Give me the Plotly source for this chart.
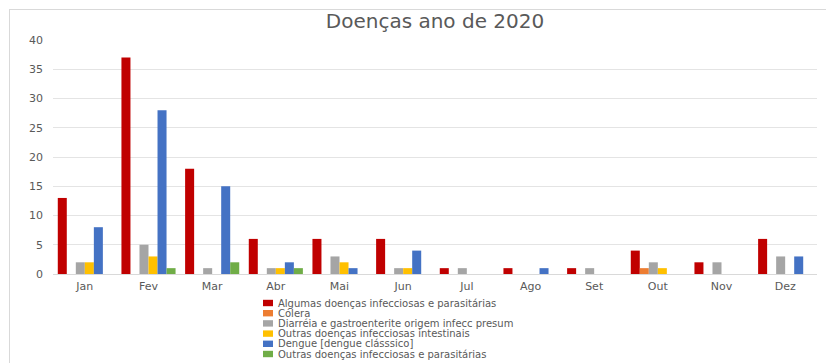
import plotly.graph_objects as go

# Monthly case counts, 2020
months = ["Jan", "Fev", "Mar", "Abr", "Mai", "Jun", "Jul", "Ago", "Set", "Out", "Nov", "Dez"]

series_names = [
    "Algumas doenças infecciosas e parasitárias",
    "Cólera",
    "Diarréia e gastroenterite origem infecc presum",
    "Outras doenças infecciosas intestinais",
    "Dengue [dengue clásssico]",
    "Outras doenças infecciosas e parasitárias",
]

algumas_doencas = [13, 37, 18, 6, 6, 6, 1, 1, 1, 4, 2, 6]
colera = [0, 0, 0, 0, 0, 0, 0, 0, 0, 1, 0, 0]
diarreia = [2, 5, 1, 1, 3, 1, 1, 0, 1, 2, 2, 3]
outras_intestinais = [2, 3, 0, 1, 2, 1, 0, 0, 0, 1, 0, 0]
dengue = [8, 28, 15, 2, 1, 4, 0, 1, 0, 0, 0, 3]
outras_parasitarias = [0, 1, 2, 1, 0, 0, 0, 0, 0, 0, 0, 0]

series_values = [algumas_doencas, colera, diarreia, outras_intestinais, dengue, outras_parasitarias]
colors = ["#C00000", "#ED7D31", "#A5A5A5", "#FFC000", "#4472C4", "#70AD47"]

y_ticks = [0, 5, 10, 15, 20, 25, 30, 35, 40]

W, H = 826, 363
ML, MR, MT, MB = 53, 9, 40, 89
PW, PH = W - ML - MR, H - MT - MB

FONT = "DejaVu Sans"
TEXT_GREY = "#595959"


def px_x(x):
    return (x - ML) / PW


def px_y(y):
    return (H - MB - y) / PH


fig = go.Figure()
for name, vals, col in zip(series_names, series_values, colors):
    fig.add_trace(go.Bar(
        x=months, y=vals, name=name,
        marker=dict(color=col, line=dict(width=0)),
        showlegend=False,
    ))

# Legend drawn as a compact vertical list below the plot
legend_x, legend_y0, legend_dy = 263, 303, 10.2
shapes = []
annotations = []
for i, (name, col) in enumerate(zip(series_names, colors)):
    cy = legend_y0 + i * legend_dy
    shapes.append(dict(
        type="rect", xref="paper", yref="paper",
        x0=px_x(legend_x), x1=px_x(legend_x + 10),
        y0=px_y(cy - 3.2), y1=px_y(cy + 3.2),
        fillcolor=col, line=dict(width=0),
    ))
    annotations.append(dict(
        xref="paper", yref="paper",
        x=px_x(legend_x + 13), y=px_y(cy),
        xanchor="left", yanchor="middle",
        text=name, showarrow=False,
        font=dict(family=FONT, size=10, color=TEXT_GREY),
    ))

# Light chart-area frame (top and left edges)
frame = dict(color="#D9D9D9", width=1)
shapes.append(dict(type="line", xref="paper", yref="paper",
                   x0=px_x(9), x1=px_x(826), y0=px_y(9.5), y1=px_y(9.5), line=frame))
shapes.append(dict(type="line", xref="paper", yref="paper",
                   x0=px_x(9.5), x1=px_x(9.5), y0=px_y(9.5), y1=px_y(363), line=frame))

fig.update_layout(
    width=W, height=H,
    margin=dict(l=ML, r=MR, t=MT, b=MB, pad=0),
    paper_bgcolor="white", plot_bgcolor="white",
    barmode="group", bargap=0.15, bargroupgap=0,
    title=dict(text="Doenças ano de 2020", x=0.5, xref="paper", xanchor="center",
               y=1 - 21 / H, yref="container", yanchor="middle",
               font=dict(family=FONT, size=20, color=TEXT_GREY)),
    font=dict(family=FONT, color=TEXT_GREY),
    xaxis=dict(
        type="category", categoryorder="array", categoryarray=months,
        showgrid=False, showline=True, linecolor="#D9D9D9", linewidth=1,
        ticks="", tickfont=dict(family=FONT, size=11, color=TEXT_GREY),
        ticklabelstandoff=2, zeroline=False,
    ),
    yaxis=dict(
        range=[0, 40], tickvals=y_ticks, ticktext=[str(v) for v in y_ticks],
        showgrid=True, gridcolor="#E4E4E4", gridwidth=1,
        zeroline=False, showline=False, ticks="",
        tickfont=dict(family=FONT, size=11, color=TEXT_GREY),
        ticklabelstandoff=9,
    ),
    shapes=shapes,
    annotations=annotations,
)

fig.write_html("out.html")
